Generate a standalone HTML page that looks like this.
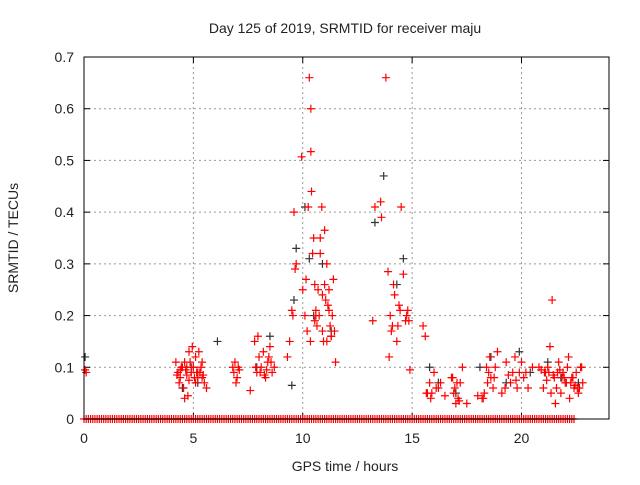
<!DOCTYPE html>
<html><head><meta charset="utf-8"><style>
body{margin:0;background:#fff}
svg text{font-family:"Liberation Sans",sans-serif;font-size:14px;fill:#222}
</style></head><body>
<svg id="chart" width="640" height="480" xmlns="http://www.w3.org/2000/svg">
<text x="345" y="33" text-anchor="middle">Day 125 of 2019, SRMTID for receiver maju</text>
<text x="345" y="471" text-anchor="middle">GPS time / hours</text>
<text transform="translate(18,238) rotate(-90)" text-anchor="middle">SRMTID / TECUs</text>
<g id="grid"></g><g id="ticks"></g><g id="marks"></g>
<rect x="84" y="57" width="525" height="362" fill="none" stroke="#000" stroke-width="1"/>
</svg>
<script>
const xTicks=[0,5,10,15,20];
const yTicks=[0,0.1,0.2,0.3,0.4,0.5,0.6,0.7];
const yTickLabels=["0","0.1","0.2","0.3","0.4","0.5","0.6","0.7"];
const redHours=[0.05,0.1,4.2,4.3,4.4,4.5,4.6,4.7,4.8,4.9,5.0,5.1,5.2,5.3,5.4,5.5,4.35,4.55,4.75,4.95,5.15,5.35,5.05,4.85,4.65,5.25,5.45,5.6,4.45,4.9,4.25,4.4,4.6,4.8,5.0,5.2,5.4,4.7,5.1,5.3,6.8,6.9,7.0,7.1,6.95,6.85,7.05,7.6,7.8,7.9,8.0,8.1,8.2,8.3,8.4,8.5,8.6,8.7,7.95,8.25,8.45,7.85,8.05,8.35,8.55,9.3,9.4,9.5,9.6,9.65,9.7,9.55,9.95,10.0,10.1,10.2,10.3,10.37,10.37,10.4,10.45,10.5,10.55,10.6,10.7,10.8,10.8,10.87,10.9,11.0,11.0,11.1,11.15,11.2,11.3,11.35,11.4,11.5,10.25,10.35,10.65,10.75,10.95,11.05,11.25,11.45,10.15,10.55,11.1,11.2,11.3,10.6,10.9,13.2,13.3,13.56,13.6,13.8,13.9,14.0,14.1,14.2,14.3,14.4,14.5,14.6,14.7,14.8,14.9,14.75,14.35,14.05,13.95,14.15,14.45,14.85,15.5,15.6,15.7,15.8,15.9,16.0,16.2,16.3,16.5,16.8,16.9,17.0,17.1,17.2,17.3,17.5,16.95,15.65,15.85,16.1,16.85,17.05,17.15,18.0,18.2,18.3,18.4,18.5,18.6,18.7,18.8,18.9,19.1,19.3,19.5,19.6,19.7,19.8,20.0,20.1,20.3,20.5,18.45,19.25,19.9,18.25,18.55,18.75,19.4,19.75,20.2,20.8,20.9,21.0,21.1,21.2,21.3,21.4,21.5,21.6,21.7,21.8,21.9,22.0,22.1,22.2,22.3,22.4,22.5,22.6,22.7,22.8,21.25,21.55,21.85,22.15,22.45,22.75,21.35,21.65,21.95,22.25,22.55,21.45,21.75,22.05,22.35,22.65,21.15,21.05];
const redValues=[0.095,0.09,0.11,0.09,0.08,0.1,0.04,0.085,0.13,0.09,0.1,0.12,0.08,0.09,0.11,0.07,0.07,0.06,0.045,0.14,0.09,0.1,0.08,0.11,0.095,0.13,0.085,0.06,0.1,0.09,0.085,0.095,0.11,0.075,0.1,0.09,0.08,0.1,0.07,0.09,0.1,0.11,0.08,0.095,0.07,0.09,0.1,0.055,0.15,0.09,0.12,0.1,0.13,0.08,0.11,0.14,0.09,0.1,0.16,0.085,0.12,0.1,0.09,0.095,0.11,0.12,0.15,0.21,0.4,0.29,0.3,0.2,0.507,0.25,0.2,0.17,0.66,0.6,0.517,0.44,0.32,0.35,0.26,0.21,0.25,0.35,0.32,0.41,0.17,0.365,0.26,0.3,0.22,0.25,0.16,0.2,0.27,0.11,0.41,0.15,0.18,0.2,0.15,0.23,0.18,0.17,0.27,0.19,0.15,0.21,0.16,0.2,0.24,0.19,0.41,0.42,0.39,0.66,0.285,0.2,0.18,0.24,0.15,0.22,0.41,0.28,0.19,0.21,0.095,0.2,0.18,0.17,0.12,0.26,0.21,0.19,0.18,0.16,0.05,0.07,0.05,0.09,0.06,0.07,0.045,0.08,0.05,0.03,0.04,0.07,0.1,0.03,0.06,0.05,0.04,0.06,0.08,0.07,0.035,0.045,0.04,0.05,0.1,0.09,0.08,0.06,0.1,0.13,0.05,0.11,0.07,0.09,0.12,0.06,0.11,0.08,0.06,0.1,0.07,0.06,0.09,0.04,0.12,0.08,0.085,0.075,0.09,0.1,0.095,0.06,0.09,0.1,0.14,0.23,0.08,0.06,0.11,0.05,0.09,0.07,0.1,0.04,0.08,0.06,0.09,0.05,0.1,0.07,0.09,0.03,0.08,0.12,0.065,0.1,0.05,0.09,0.08,0.07,0.06,0.085,0.095,0.07,0.08,0.06,0.075,0.09,0.08,0.12,0.09];
const blackHours=[0.05,4.5,4.9,5.2,6.1,7.9,8.5,9.5,9.6,9.7,10.1,10.3,10.5,10.9,11.3,13.3,13.7,14.3,14.6,15.8,16.2,17.0,18.1,18.6,19.3,19.9,20.4,21.2,21.8,22.6];
const blackValues=[0.12,0.06,0.1,0.07,0.15,0.1,0.16,0.065,0.23,0.33,0.41,0.31,0.2,0.3,0.17,0.38,0.47,0.26,0.31,0.1,0.07,0.05,0.1,0.12,0.07,0.13,0.09,0.11,0.08,0.07];
const zeroHours=[0,0.1,0.2,0.3,0.4,0.5,0.6,0.7,0.8,0.9,1.0,1.1,1.2,1.3,1.4,1.5,1.6,1.7,1.8,1.9,2.0,2.1,2.2,2.3,2.4,2.5,2.6,2.7,2.8,2.9,3.0,3.1,3.2,3.3,3.4,3.5,3.6,3.7,3.8,3.9,4.0,4.1,4.2,4.3,4.4,4.5,4.6,4.7,4.8,4.9,5.0,5.1,5.2,5.3,5.4,5.5,5.6,5.7,5.8,5.9,6.0,6.1,6.2,6.3,6.4,6.5,6.6,6.7,6.8,6.9,7.0,7.1,7.2,7.3,7.4,7.5,7.6,7.7,7.8,7.9,8.0,8.1,8.2,8.3,8.4,8.5,8.6,8.7,8.8,8.9,9.0,9.1,9.2,9.3,9.4,9.5,9.6,9.7,9.8,9.9,10.0,10.1,10.2,10.3,10.4,10.5,10.6,10.7,10.8,10.9,11.0,11.1,11.2,11.3,11.4,11.5,11.6,11.7,11.8,11.9,12.0,12.1,12.2,12.3,12.4,12.5,12.6,12.7,12.8,12.9,13.0,13.1,13.2,13.3,13.4,13.5,13.6,13.7,13.8,13.9,14.0,14.1,14.2,14.3,14.4,14.5,14.6,14.7,14.8,14.9,15.0,15.1,15.2,15.3,15.4,15.5,15.6,15.7,15.8,15.9,16.0,16.1,16.2,16.3,16.4,16.5,16.6,16.7,16.8,16.9,17.0,17.1,17.2,17.3,17.4,17.5,17.6,17.7,17.8,17.9,18.0,18.1,18.2,18.3,18.4,18.5,18.6,18.7,18.8,18.9,19.0,19.1,19.2,19.3,19.4,19.5,19.6,19.7,19.8,19.9,20.0,20.1,20.2,20.3,20.4,20.5,20.6,20.7,20.8,20.9,21.0,21.1,21.2,21.3,21.4,21.5,21.6,21.7,21.8,21.9,22.0,22.1,22.2,22.3,22.4];
const NS="http://www.w3.org/2000/svg";
const X=h=>84+h*525/24, Y=v=>419-v*362/0.7;
function mk(t,a,p){const e=document.createElementNS(NS,t);for(const k in a)e.setAttribute(k,a[k]);p.appendChild(e);return e;}
const grid=document.getElementById('grid'),ticks=document.getElementById('ticks'),marks=document.getElementById('marks');
xTicks.forEach(t=>{const x=X(t);
 if(t>0){const g=mk('line',{x1:x,x2:x,y1:57,y2:419,stroke:'#999','stroke-dasharray':'2,3'},grid);}
 mk('line',{x1:x,x2:x,y1:57,y2:63,stroke:'#000'},ticks);
 mk('line',{x1:x,x2:x,y1:413,y2:419,stroke:'#000'},ticks);
 const l=mk('text',{x:x,y:443,'text-anchor':'middle'},ticks);l.textContent=t;
 
 
});
yTicks.forEach((t,i)=>{const y=Y(t);
 if(t>0&&t<0.7){const g=mk('line',{x1:84,x2:609,y1:y,y2:y,stroke:'#999','stroke-dasharray':'2,3'},grid);}
 mk('line',{x1:84,x2:90,y1:y,y2:y,stroke:'#000'},ticks);
 mk('line',{x1:603,x2:609,y1:y,y2:y,stroke:'#000'},ticks);
 const l=mk('text',{x:74,y:y+5,'text-anchor':'end'},ticks);l.textContent=yTickLabels[i];
 
 
});
function cross(h,v,c,name){const x=X(h),y=Y(v);
 const p=mk('path',{d:`M${x-4},${y}h8M${x},${y-4}v8`,stroke:c,'stroke-width':1.2,fill:'none'},marks);
 
 
}
blackHours.forEach((h,i)=>cross(h,blackValues[i],'#333','black-point'));
zeroHours.forEach(h=>cross(h,0,'#f00','zero-point'));
redHours.forEach((h,i)=>cross(h,redValues[i],'#f00','red-point'));
</script>
</body></html>
